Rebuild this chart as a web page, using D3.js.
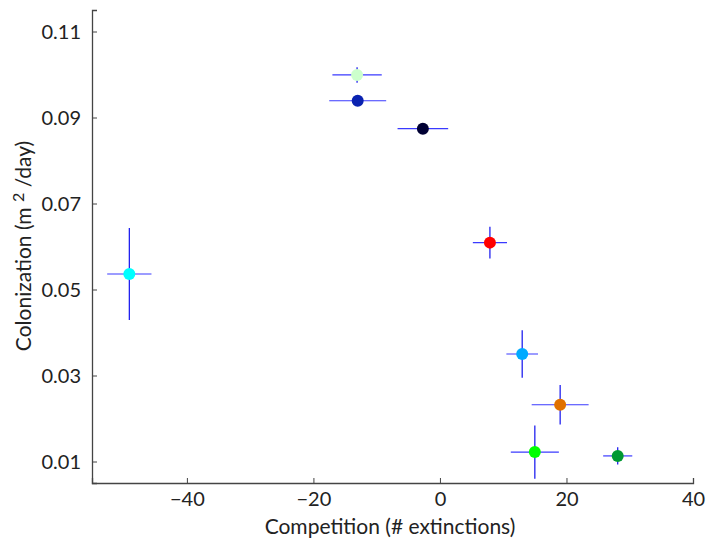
<!DOCTYPE html>
<html><head><meta charset="utf-8">
<script src="https://cdn.jsdelivr.net/npm/d3@7"></script>
<style>body{margin:0;background:#fff}svg{display:block}text{font-family:Lato,"Open Sans",sans-serif;fill:#222}</style>
</head><body><svg id="c" width="706" height="543"></svg>
<script>
const competition = [-13.1, -13.0, -2.7, 7.9, -49.1, 13.0, 19.0, 15.0, 28.1];
const colonization = [0.0999, 0.0939, 0.0874, 0.0609, 0.0536, 0.0350, 0.0232, 0.0122, 0.0113];
const xErr = [3.9, 4.5, 4.0, 2.7, 3.5, 2.5, 4.5, 3.8, 2.3];
const yErr = [0.0018, 0.0005, 0.0004, 0.0037, 0.0107, 0.0055, 0.0046, 0.0062, 0.0020];
const colors = ["#ccffcc", "#0a22b0", "#000033", "#ff0000", "#00ffff", "#00aaff", "#e07000", "#00ff00", "#009933"];
const xTicks = [-40, -20, 0, 20, 40];
const yTicks = [0.01, 0.03, 0.05, 0.07, 0.09, 0.11];

const svg = d3.select("#c");
const x = d3.scaleLinear().domain([-55, 40]).range([92, 693]);
const y = d3.scaleLinear().domain([0.005, 0.115]).range([483, 10]);

const gx = svg.append("g").attr("transform", "translate(0,483)")
  .call(d3.axisBottom(x).tickValues(xTicks).tickSize(-5).tickPadding(9).tickFormat(d => d < 0 ? "\u2212" + Math.abs(d) : d));
const gy = svg.append("g").attr("transform", "translate(92,0)")
  .call(d3.axisLeft(y).tickValues(yTicks).tickSize(-5).tickPadding(11).tickFormat(d3.format(".2f")));
[gx, gy].forEach(g => {
  g.select(".domain").attr("stroke", "#444").attr("stroke-width", 1.3);
  g.selectAll(".tick line").attr("stroke", "#444");
  g.selectAll(".tick text").style("font-size", "20px").attr("fill", "#222");
});
gy.selectAll(".tick text").attr("dy", "0.35em");

const data = competition.map((c, i) => ({x: c, y: colonization[i], ex: xErr[i], ey: yErr[i], c: colors[i]}));
const g = svg.append("g");
data.forEach(d => {
  g.append("line").attr("x1", x(d.x - d.ex)).attr("x2", x(d.x + d.ex))
    .attr("y1", y(d.y)).attr("y2", y(d.y)).attr("stroke", "#3a3aff").attr("stroke-width", 1.2);
  g.append("line").attr("x1", x(d.x)).attr("x2", x(d.x))
    .attr("y1", y(d.y - d.ey)).attr("y2", y(d.y + d.ey)).attr("stroke", "#1010ee").attr("stroke-width", 1.2);
});
g.selectAll("circle").data(data).enter().append("circle")
  .attr("cx", d => x(d.x)).attr("cy", d => y(d.y)).attr("r", 6).attr("fill", d => d.c);

svg.append("text").attr("x", 390).attr("y", 534).attr("text-anchor", "middle")
  .style("font-size", "21px").text("Competition (# extinctions)");
const yl = svg.append("text").attr("transform", "translate(31,246) rotate(-90)").attr("text-anchor", "middle")
  .style("font-size", "21px");
yl.append("tspan").text("Colonization (m ");
yl.append("tspan").attr("dy", "-7").style("font-size", "16px").text("2");
yl.append("tspan").attr("dy", "7").text(" /day)");
</script></body></html>
